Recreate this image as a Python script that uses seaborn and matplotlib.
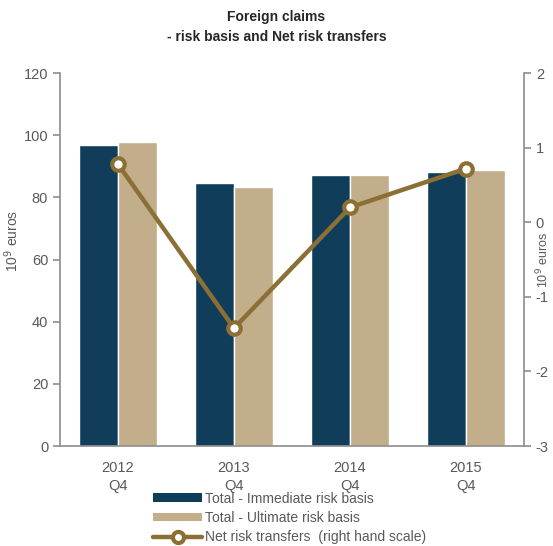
import numpy as np
import pandas as pd
import matplotlib
matplotlib.use("Agg")
import matplotlib.pyplot as plt
from matplotlib.lines import Line2D
from matplotlib.patches import Patch
from matplotlib.ticker import FixedLocator
import seaborn as sns

# Data
periods = ["2012\nQ4", "2013\nQ4", "2014\nQ4", "2015\nQ4"]
immediate = [97.0, 84.8, 87.2, 88.1]
ultimate = [97.8, 83.5, 87.2, 88.7]
net_transfers = [0.78, -1.42, 0.20, 0.72]

series_names = ["Total - Immediate risk basis", "Total - Ultimate risk basis"]
line_name = "Net risk transfers  (right hand scale)"

navy = "#0f3d5a"
tan = "#c2ae8b"
gold = "#8b6f35"
grey = "#595959"
spine_c = "#8c8c8c"

sns.set_style("white")
plt.rcParams["font.family"] = ["Liberation Sans", "DejaVu Sans"]
plt.rcParams["axes.unicode_minus"] = False

df = pd.DataFrame({
    "period": periods * 2,
    "value": immediate + ultimate,
    "series": [series_names[0]] * 4 + [series_names[1]] * 4,
})

fig = plt.figure(figsize=(5.53, 5.46), dpi=100)
ax = fig.add_axes([0.1085, 0.183, 0.839, 0.683])

sns.barplot(data=df, x="period", y="value", hue="series",
            palette=[navy, tan], saturation=1, width=0.67,
            edgecolor="white", linewidth=1, ax=ax, legend=False)

ax.set_ylim(0, 120)
ax.set_yticks(range(0, 121, 20))
ax.set_xlim(-0.5, 3.5)
ax.set_xlabel("")
ax.set_ylabel("10$^9$ euros", fontsize=10, color=grey)
ax.yaxis.set_label_coords(-0.085, 0.55)

ax2 = ax.twinx()
ax2.plot(range(len(net_transfers)), net_transfers, color=gold, lw=3.2,
         marker="o", markersize=9, markerfacecolor="white",
         markeredgecolor=gold, markeredgewidth=3, zorder=5)
ax2.set_ylim(-3, 2)
ax2.set_yticks(range(-3, 3))
ax2.set_ylabel("10$^9$ euros", fontsize=9, color=grey, rotation=90,
               va="center", ha="center")
ax2.yaxis.set_label_coords(1.04, 0.5)

for a in (ax, ax2):
    a.spines["top"].set_visible(False)
    for side in ("left", "right", "bottom"):
        a.spines[side].set_color(spine_c)
        a.spines[side].set_linewidth(1.2)
    a.tick_params(axis="y", colors=spine_c, labelcolor=grey, labelsize=10.5,
                  length=5, width=1.2, direction="out")

ax.spines["right"].set_visible(False)
ax2.spines["left"].set_visible(False)
ax2.spines["bottom"].set_visible(False)

ax.tick_params(axis="x", which="major", length=0, labelsize=10.5,
               labelcolor=grey, pad=11)
for lbl in ax.get_xticklabels():
    lbl.set_linespacing(1.35)
ax.xaxis.set_minor_locator(FixedLocator(np.arange(-0.5, 4, 1.0)))
ax.tick_params(axis="x", which="minor", length=5, width=1.2,
               color=spine_c, direction="out")

fig.suptitle("Foreign claims\n- risk basis and Net risk transfers",
             fontsize=10, fontweight="bold", y=0.982, linespacing=1.55)

handles = [
    Patch(facecolor=navy, edgecolor="none"),
    Patch(facecolor=tan, edgecolor="none"),
    Line2D([0], [0], color=gold, lw=3.2, marker="o", markersize=8,
           markerfacecolor="white", markeredgecolor=gold, markeredgewidth=3),
]
fig.legend(handles, series_names + [line_name], loc="lower left",
           bbox_to_anchor=(0.262, -0.012), frameon=False, fontsize=10,
           labelcolor=grey, handlelength=3.5, handleheight=0.6,
           labelspacing=0.38, handletextpad=0.25, borderaxespad=0.2)

fig.savefig("out.png", dpi=100)
